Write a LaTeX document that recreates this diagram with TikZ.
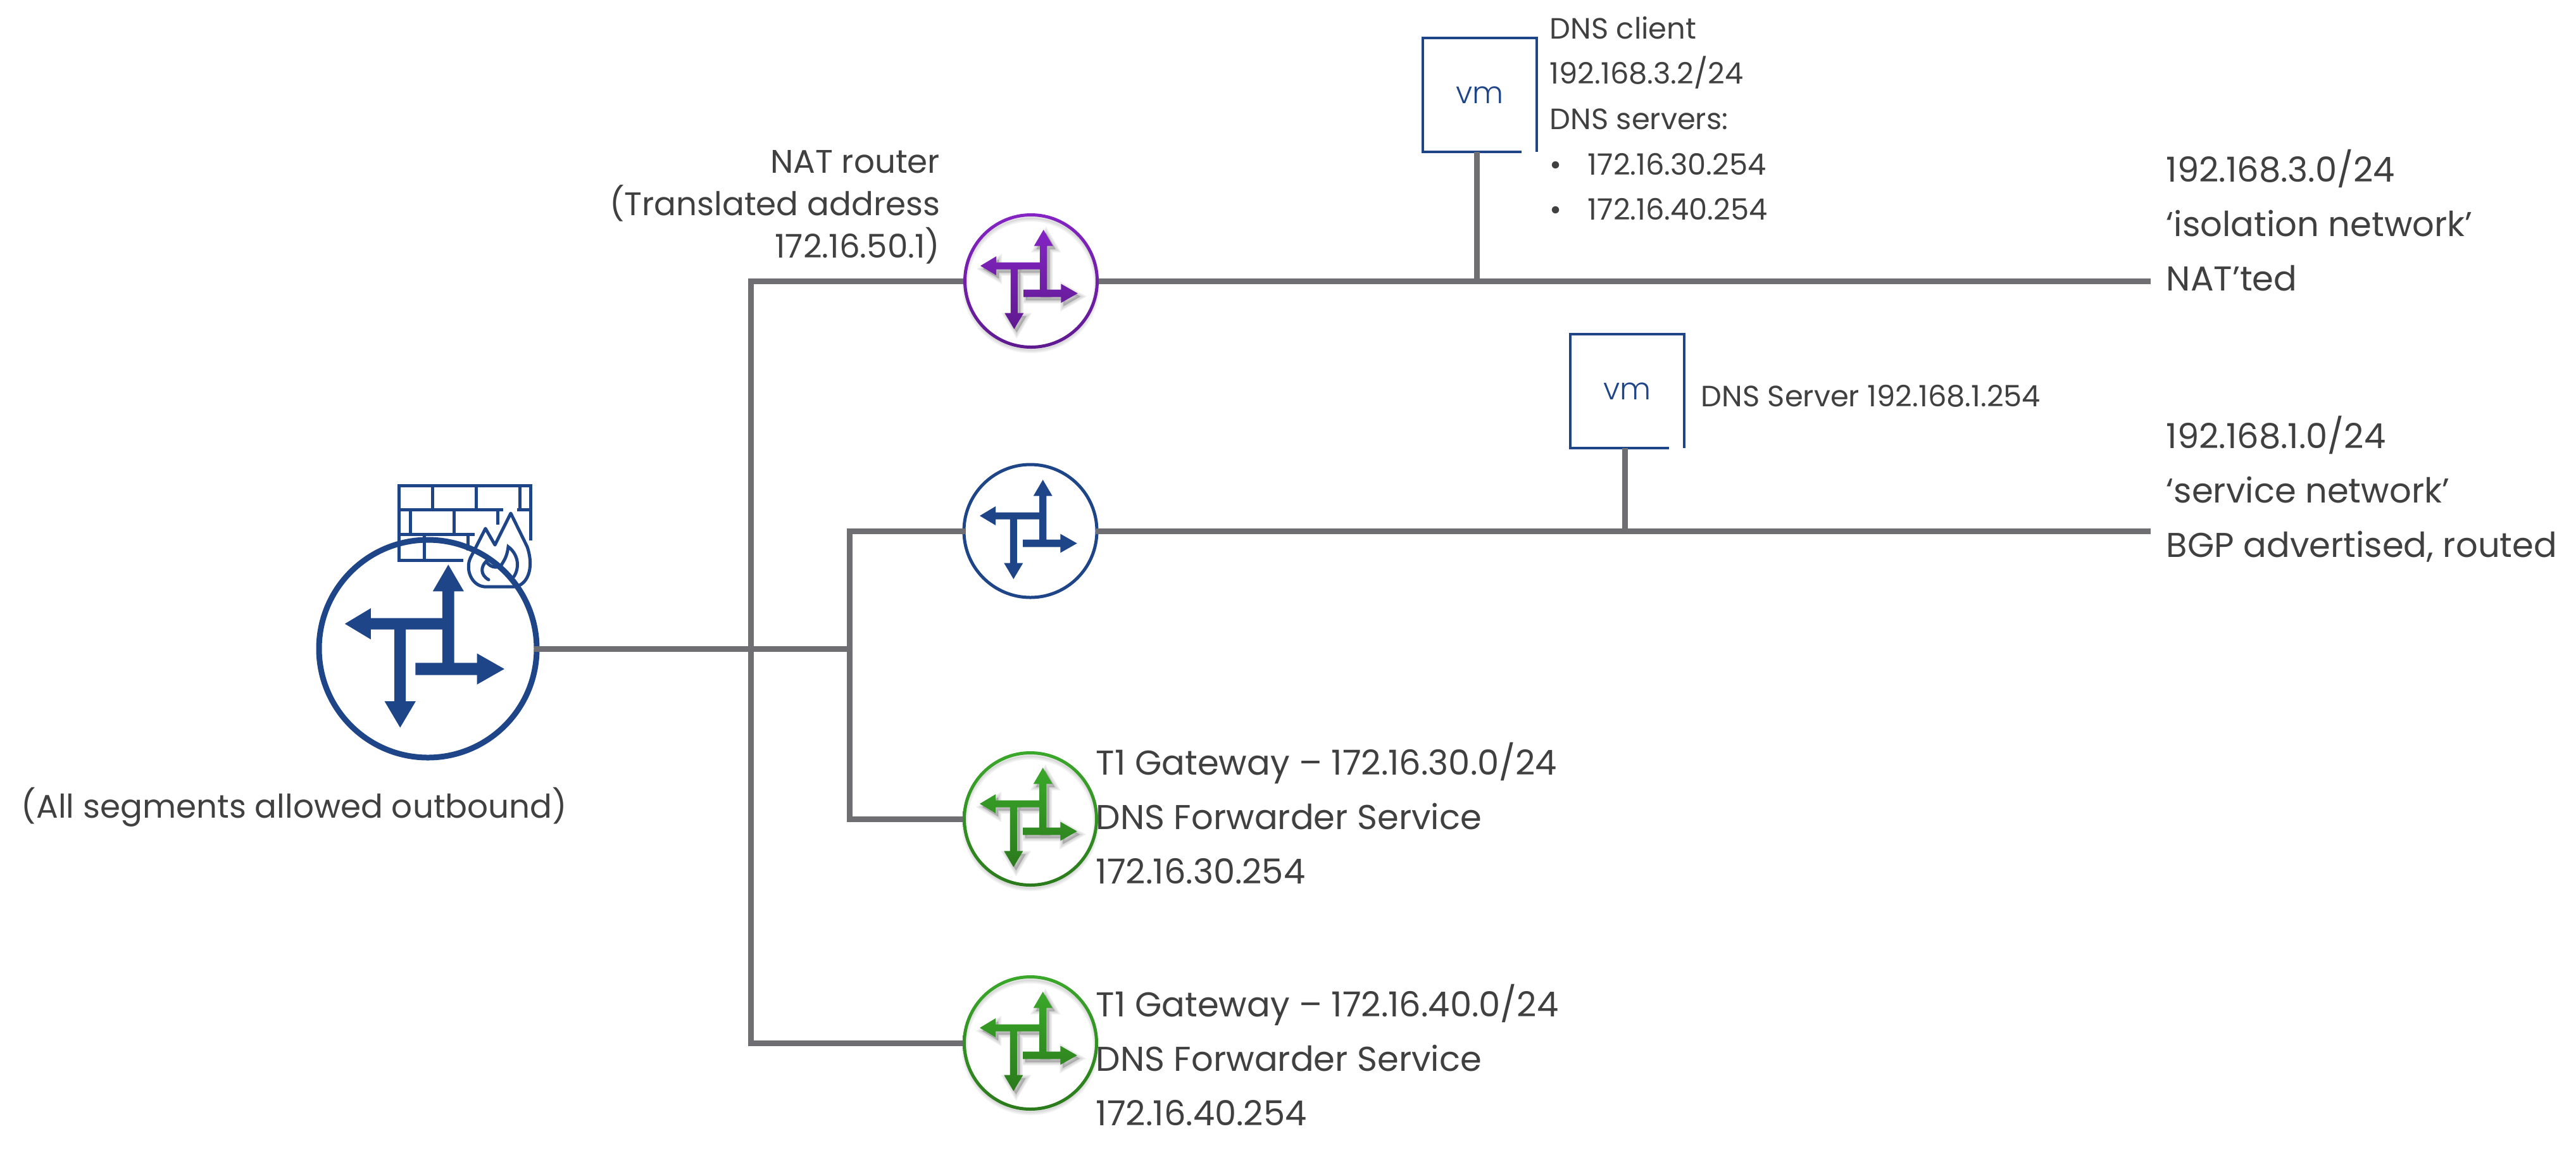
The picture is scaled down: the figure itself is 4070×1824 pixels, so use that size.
\documentclass[tikz,border=0pt]{standalone}
\usepackage{fontspec}
\setmainfont{Poppins}
\newfontfamily\vmfont{Poppins Light}
\definecolor{linkgray}{HTML}{6F6F73}
\definecolor{labelgray}{HTML}{404040}
\definecolor{routerblue}{HTML}{1F4589}
\definecolor{purpletop}{HTML}{8424C4}
\definecolor{purplebot}{HTML}{5F1A8F}
\definecolor{greentop}{HTML}{3AA82A}
\definecolor{greenbot}{HTML}{2B7A1C}
\newcommand{\routerarrows}{
  (14,19.5) -- (14,-55.3) -- (4.7,-55.3) -- (19.7,-81) -- (34.7,-55.3) -- (25.4,-55.3) -- (25.4,19.5) -- cycle
  (-80,-24) -- (-55,-39) -- (-55,-29.5) -- (14,-29.5) -- (14,-18.5) -- (-55,-18.5) -- (-55,-9) -- cycle
  (-32.2,-24) -- (-21.2,-24) -- (-21.2,50.7) -- (-11.7,50.7) -- (-26.7,76) -- (-41.7,50.7) -- (-32.2,50.7) -- cycle
  (-12,13.7) -- (47.3,13.7) -- (47.3,4.5) -- (73.7,19.5) -- (47.3,34.5) -- (47.3,25.3) -- (-12,25.3) -- cycle
}
\tikzset{
  link/.style={draw=linkgray, line width=2.25pt},
  router/.style={circle, minimum size=53.5pt, inner sep=0pt, outer sep=0pt},
  vmbox/.style={minimum size=45pt, inner sep=0pt, outer sep=0pt, text=routerblue, font=\vmfont\fontsize{12}{14}\selectfont},
  vmline/.style={draw=routerblue, line width=1.15pt},
  bigtxt/.style={inner sep=0pt, text=labelgray, font=\fontsize{13.6}{21.5}\selectfont, align=left},
  midtxt/.style={inner sep=0pt, text=labelgray, font=\fontsize{12.9}{16.75}\selectfont, align=right},
  smalltxt/.style={inner sep=0pt, text=labelgray, font=\fontsize{11.6}{17.9}\selectfont, align=left},
  pics/softicon/.style 2 args={code={
    \foreach \w in {10,6,2}{
      \draw[black, opacity=.05, line width=\w*.25pt] (0,5) circle[radius=104];
      \filldraw[black, opacity=.07, line width=\w*.25pt, shift={(4,5)}] \routerarrows;
    }
    \shade[top color=#1, bottom color=#2, even odd rule] (0,0) circle[radius=107] (0,0) circle[radius=102];
    \shade[top color=#1, bottom color=#2] \routerarrows;
  }},
  pics/flaticon/.style={code={\fill[routerblue] \routerarrows;}}
}
\begin{document}
\begin{tikzpicture}[x=.25pt, y=-.25pt]
\useasboundingbox (0,0) rectangle (4070,1824);
% firewall
\draw[routerblue, line width=1.25pt]
  (732,885) -- (630,885) -- (630,767) -- (838,767) -- (838,854)
  (630,805) -- (795,805) (817,805) -- (838,805)
  (630,844) -- (750,844)
  (683,767) -- (683,805) (752,767) -- (752,805) (821,767) -- (821,805)
  (648,805) -- (648,844) (717,805) -- (717,844) (786,805) -- (786,829)
  (670,844) -- (670,885) (739,844) -- (739,870);
\draw[white, line width=3pt, fill=white, line join=round]
  (765,927) -- (813,927) .. controls (832,925) and (845,900) .. (833,864)
  -- (807,811) -- (782,861) -- (767,835) -- (743,882) .. controls (735,900) and (745,925) .. cycle;
\draw[routerblue, line width=1.25pt, line join=round]
  (765,927) -- (813,927) .. controls (832,925) and (845,900) .. (833,864)
  -- (807,811) -- (782,861) -- (767,835) -- (743,882) .. controls (735,900) and (745,925) .. cycle;
\draw[routerblue, line width=1.25pt, line cap=round]
  (772,916) .. controls (758,908) and (760,895) .. (768,887)
  .. controls (775,898) and (790,900) .. (795,888)
  .. controls (800,880) and (802,872) .. (803,864)
  .. controls (818,875) and (822,895) .. (812,911);
% routers
\node[router, draw=routerblue, line width=2.25pt, minimum size=86pt, outer sep=-1.125pt] (edgeR) at (676,1025) {};
\node[router] (natR) at (1629,444) {};
\node[router, draw=routerblue, line width=1.25pt, minimum size=52.5pt, outer sep=-.625pt] (serviceR) at (1628,839) {};
\node[router] (dnsA) at (1628,1294) {};
\node[router] (dnsB) at (1628,1648) {};
\pic[scale=1.64] at (edgeR) {flaticon};
\pic at (natR) {softicon={purpletop}{purplebot}};
\pic at (serviceR) {flaticon};
\pic at (dnsA) {softicon={greentop}{greenbot}};
\pic at (dnsB) {softicon={greentop}{greenbot}};
% vm boxes
\node[vmbox] (vmClient) at (2338,150) {vm};
\node[vmbox] (vmServer) at (2571,618) {vm};
\foreach \v in {vmClient, vmServer}{
  \draw[vmline] ([xshift=-6pt]\v.south east) -- (\v.south west) -- (\v.north west) -- (\v.north east) -- (\v.south east);
}
% links
\coordinate (busA) at (1186,1025);
\coordinate (busB) at (1342,1025);
\coordinate (tapClient) at (2333,444);
\coordinate (tapServer) at (2567,839);
\coordinate (endNat) at (3398,444);
\coordinate (endService) at (3398,839);
\draw[link] (edgeR) -- (busB);
\draw[link] (natR) -| (busA) |- (dnsB);
\draw[link] (dnsA) -| (busB) |- (serviceR);
\draw[link] (natR) -- (endNat);
\draw[link] (serviceR) -- (endService);
\draw[link] (tapClient) -- (tapClient |- vmClient.south);
\draw[link] (tapServer) -- (tapServer |- vmServer.south);
% labels
\node[midtxt, anchor=east] (natLabel) at (1486,327) {NAT router\\(Translated address\\172.16.50.1)};
\node[midtxt, anchor=center, align=center] (edgeLabel) at (465,1275) {(All segments allowed outbound)};
\node[smalltxt, anchor=west] (clientLabel) at (2448,187) {DNS client\\192.168.3.2/24\\DNS servers:\\\makebox[15pt][l]{•}172.16.30.254\\\makebox[15pt][l]{•}172.16.40.254};
\node[smalltxt, anchor=west] (serverLabel) at (2687,626) {DNS Server 192.168.1.254};
\node[bigtxt, anchor=west] (isoLabel) at (3422,348) {192.168.3.0/24\\‘isolation network’\\NAT’ted};
\node[bigtxt, anchor=west] (svcLabel) at (3422,773) {192.168.1.0/24\\‘service network’\\BGP advertised, routed};
\node[bigtxt, anchor=west] (dnsALabel) at (1731,1285) {T1 Gateway – 172.16.30.0/24\\DNS Forwarder Service\\172.16.30.254};
\node[bigtxt, anchor=west] (dnsBLabel) at (1731,1667) {T1 Gateway – 172.16.40.0/24\\DNS Forwarder Service\\172.16.40.254};
\end{tikzpicture}
\end{document}
